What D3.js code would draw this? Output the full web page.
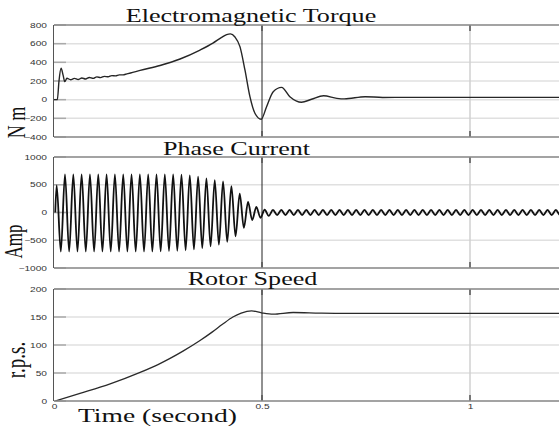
<!DOCTYPE html>
<html>
<head>
<meta charset="utf-8">
<script src="https://cdn.jsdelivr.net/npm/d3@7"></script>
<style>
  body { margin: 0; background: #fff; }
  svg { display: block; }
</style>
</head>
<body>
<svg id="chart" width="559" height="429"></svg>
<script>
// time axis
const timeTicks = [0, 0.5, 1];

// electromagnetic torque, [time (s), N m]
const torquePoints = [
  [0, 0], [0.008, 0], [0.012, 200], [0.017, 336], [0.022, 260], [0.026, 193], [0.031, 229],
  [0.040, 214], [0.049, 228], [0.058, 216], [0.067, 232], [0.076, 222], [0.085, 238],
  [0.094, 228], [0.103, 244], [0.112, 236], [0.121, 250], [0.130, 245], [0.139, 258],
  [0.148, 255], [0.157, 266], [0.166, 266], [0.175, 276], [0.184, 286], [0.207, 314],
  [0.255, 366], [0.303, 436], [0.351, 532], [0.382, 606], [0.403, 668], [0.415, 697],
  [0.424, 705], [0.435, 672], [0.447, 568], [0.459, 318], [0.471, 32], [0.483, -146],
  [0.498, -210], [0.511, -75], [0.527, 86], [0.547, 132], [0.567, 32], [0.595, -28],
  [0.619, 4], [0.648, 42], [0.68, 14], [0.698, 8], [0.748, 32], [0.79, 24], [0.85, 25],
  [1.3, 25]
];
const torqueTicks = [-400, -200, 0, 200, 400, 600, 800];

// phase current: start point, then successive peaks / troughs every half cycle (50 Hz)
const currentStart = [0.003, 0];
const currentFirstPeak = 0.0064;
const currentHalfPeriod = 0.01;
const currentTransient = [
  490, -705, 685, -705, 685, -705, 685, -705, 685, -705,
  685, -705, 685, -705, 685, -705, 685, -705, 685, -705,
  685, -705, 685, -705, 685, -700, 685, -695, 685, -690,
  680, -680, 670, -665, 645, -640, 615, -610, 585, -580,
  560, -530, 475, -430, 340, -278, 190, -135, 100, -95,
  50, -60
];
const currentRipple = [
  45, -45, 45, -45, 45, -45, 45, -45, 45, -45,
  45, -45, 45, -45, 45, -45, 45, -45, 45, -45,
  45, -45, 45, -45, 45, -45, 45, -45, 45, -45,
  45, -45, 45, -45, 45, -45, 45, -45, 45, -45,
  45, -45, 45, -45, 45, -45, 45, -45, 45, -45,
  45, -45, 45, -45, 45, -45, 45, -45, 45, -45,
  45, -45, 45, -45, 45, -45, 45, -45, 45, -45,
  45, -45, 45
];
const currentTicks = [-1000, -500, 0, 500, 1000];

// rotor speed, [time (s), r.p.s.]
const speedPoints = [
  [0.003, 0], [0.0625, 13.5], [0.135, 30.5], [0.207, 51], [0.25, 65], [0.279, 76],
  [0.31, 89], [0.351, 108], [0.38, 123], [0.405, 137], [0.43, 150], [0.45, 157],
  [0.475, 161], [0.499, 157.5], [0.527, 155], [0.575, 158], [0.639, 157], [0.7, 156.5],
  [1.3, 156.5]
];
const speedTicks = [0, 50, 100, 150, 200];

const currentPoints = [currentStart].concat(
  currentTransient.concat(currentRipple).map((v, i) => [currentFirstPeak + i * currentHalfPeriod, v])
);

const svg = d3.select('#chart');
const W = 559;
const STRETCH = 1.45; // the source picture is stretched sideways
const serif = 'Liberation Serif, Times New Roman, serif';
const sans = 'Liberation Sans, Arial, sans-serif';

const x = d3.scaleLinear().domain([0, 1]).range([54, 470]);

const panels = [
  { title: 'Electromagnetic Torque', titleX: 251, titleY: 21.5, top: 25, bottom: 137,
    domain: [-400, 800], ticks: torqueTicks, data: torquePoints,
    label: 'N m', labelX: 25, labelY: 122.5, labelSize: 18, stroke: '#262626', width: 1.4 },
  { title: 'Phase Current', titleX: 236.5, titleY: 154.5, top: 157, bottom: 268,
    domain: [-1000, 1000], ticks: currentTicks, data: currentPoints,
    label: 'Amp', labelX: 22, labelY: 241.5, labelSize: 17, stroke: '#111', width: 1.8 },
  { title: 'Rotor Speed', titleX: 252.5, titleY: 285, top: 289, bottom: 401,
    domain: [0, 200], ticks: speedTicks, data: speedPoints,
    label: 'r.p.s.', labelX: 25, labelY: 360, labelSize: 19, stroke: '#2a2a2a', width: 1.3 }
];

panels.forEach((p, idx) => {
  const y = d3.scaleLinear().domain(p.domain).range([p.bottom, p.top]);
  const g = svg.append('g');

  // horizontal grid
  g.selectAll('.hgrid').data(p.ticks).join('line')
    .attr('x1', x(0)).attr('x2', W)
    .attr('y1', d => y(d)).attr('y2', d => y(d))
    .attr('stroke', '#e0e0e0').attr('stroke-width', 1.5);
  // left tick marks
  g.selectAll('.ytick').data(p.ticks).join('line')
    .attr('x1', x(0)).attr('x2', x(0) + 12)
    .attr('y1', d => y(d)).attr('y2', d => y(d))
    .attr('stroke', '#aaa').attr('stroke-width', 1.5);

  // vertical grid
  g.append('line')
    .attr('x1', x(1)).attr('x2', x(1)).attr('y1', p.top).attr('y2', p.bottom)
    .attr('stroke', '#d0d0d0').attr('stroke-width', 1.5);
  g.append('line')
    .attr('x1', x(0.5)).attr('x2', x(0.5)).attr('y1', p.top).attr('y2', p.bottom)
    .attr('stroke', '#222').attr('stroke-width', 1);
  [0.5, 1].forEach(t => {
    g.append('line').attr('x1', x(t)).attr('x2', x(t)).attr('y1', p.top).attr('y2', p.top + 6)
      .attr('stroke', '#555').attr('stroke-width', 1.5);
    g.append('line').attr('x1', x(t)).attr('x2', x(t)).attr('y1', p.bottom - 6).attr('y2', p.bottom)
      .attr('stroke', '#555').attr('stroke-width', 1.5);
  });

  // clip + line
  const clipId = 'clip' + idx;
  svg.append('clipPath').attr('id', clipId)
    .append('rect').attr('x', x(0)).attr('y', p.top).attr('width', W).attr('height', p.bottom - p.top);
  g.append('path')
    .datum(p.data)
    .attr('clip-path', `url(#${clipId})`)
    .attr('fill', 'none')
    .attr('stroke', p.stroke)
    .attr('stroke-width', p.width)
    .attr('stroke-linejoin', 'round')
    .attr('d', d3.line().x(d => x(d[0])).y(d => y(d[1])).curve(d3.curveMonotoneX));

  // frame
  g.append('line').attr('x1', x(0)).attr('x2', W).attr('y1', p.top).attr('y2', p.top)
    .attr('stroke', '#8c8c8c').attr('stroke-width', 1.5);
  g.append('line').attr('x1', x(0)).attr('x2', W).attr('y1', p.bottom).attr('y2', p.bottom)
    .attr('stroke', '#8c8c8c').attr('stroke-width', 1.5);
  g.append('line').attr('x1', x(0) - 0.5).attr('x2', x(0) - 0.5).attr('y1', p.top).attr('y2', p.bottom)
    .attr('stroke', '#555').attr('stroke-width', 1);

  // y axis labels
  const yAxis = g.append('g')
    .attr('transform', `translate(${x(0)},0)`)
    .call(d3.axisLeft(y).tickValues(p.ticks).tickSize(0).tickFormat(d3.format('d')));
  yAxis.select('.domain').remove();
  yAxis.selectAll('text')
    .attr('x', -7 / STRETCH)
    .attr('transform', `scale(${STRETCH},1)`)
    .attr('font-family', sans).attr('font-size', 7).attr('fill', '#333');

  // title
  svg.append('text')
    .attr('transform', `translate(${p.titleX},${p.titleY}) scale(${STRETCH},1)`)
    .attr('text-anchor', 'middle')
    .attr('font-family', serif).attr('font-size', 18).attr('fill', '#111')
    .text(p.title);

  // y label
  svg.append('text')
    .attr('transform', `translate(${p.labelX},${p.labelY}) scale(${STRETCH},1) rotate(-90)`)
    .attr('text-anchor', 'middle')
    .attr('font-family', serif).attr('font-size', p.labelSize).attr('fill', '#111')
    .text(p.label);

  // x axis on the last panel
  if (idx === panels.length - 1) {
    const xAxis = svg.append('g')
      .attr('transform', `translate(0,${p.bottom})`)
      .call(d3.axisBottom(x).tickValues(timeTicks).tickSize(0).tickPadding(3.5).tickFormat(d3.format('')));
    xAxis.select('.domain').remove();
    // tick groups are translated, so scaling around their origin keeps them centred
    xAxis.selectAll('text')
      .attr('transform', `scale(${STRETCH},1)`)
      .attr('font-family', sans).attr('font-size', 7).attr('fill', '#333');
  }
});

svg.append('text')
  .attr('transform', `translate(78,421.5) scale(${STRETCH},1)`)
  .attr('font-family', serif).attr('font-size', 19).attr('fill', '#111')
  .text('Time (second)');
</script>
</body>
</html>
